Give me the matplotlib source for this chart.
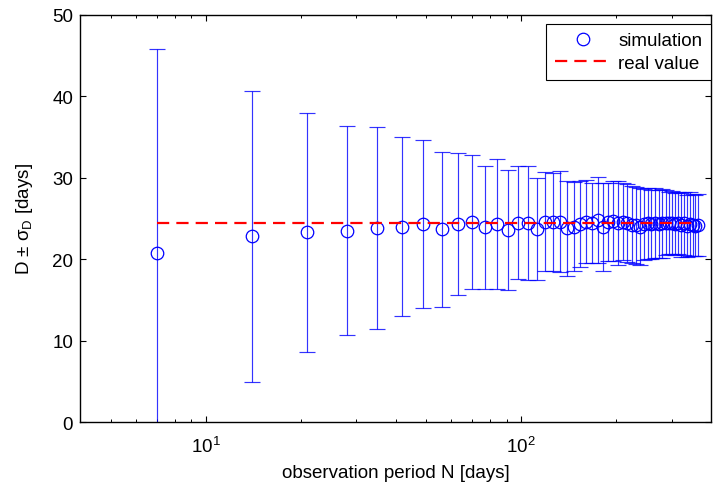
import matplotlib
matplotlib.use("Agg")
import matplotlib.pyplot as plt
from matplotlib.lines import Line2D

plt.rcParams["font.family"] = ["Liberation Sans", "DejaVu Sans"]
plt.rcParams["mathtext.fontset"] = "custom"
plt.rcParams["mathtext.rm"] = "Liberation Sans"
plt.rcParams["mathtext.it"] = "Liberation Sans"
plt.rcParams["mathtext.default"] = "regular"

# observation period N [days] (weekly steps)
period = [7 * k for k in range(1, 53)]

# estimated D [days]
d_mean = [20.8, 22.8, 23.3, 23.5, 23.8, 24.0, 24.3, 23.7, 24.3, 24.6,
          23.9, 24.3, 23.6, 24.5, 24.45, 23.7, 24.6, 24.6, 24.6, 23.8,
          24.0, 24.35, 24.6, 24.45, 24.8, 23.95, 24.6, 24.7, 24.45, 24.6,
          24.45, 24.25, 24.15, 24.0, 24.3, 24.4, 24.3, 24.4, 24.3, 24.4,
          24.5, 24.4, 24.5, 24.3, 24.4, 24.2, 24.4, 24.1, 24.3, 24.2,
          24.1, 24.2]

# sigma_D [days]
d_sigma = [25.0, 17.8, 14.7, 12.8, 12.4, 10.95, 10.3, 9.5, 8.7, 8.2,
           7.6, 8.0, 7.4, 6.95, 7.0, 6.3, 6.05, 6.0, 6.2, 5.8,
           5.5, 5.25, 5.1, 4.95, 5.3, 5.45, 4.8, 4.9, 5.15, 4.75,
           4.75, 4.75, 4.75, 4.7, 4.35, 4.4, 4.25, 4.3, 4.2, 4.2,
           4.0, 3.8, 3.9, 3.8, 3.8, 3.9, 3.9, 3.8, 3.9, 3.8,
           3.75, 3.75]

real_value = 24.45

FS = 13.5

fig = plt.figure(figsize=(7.13, 4.85), dpi=100)
ax = fig.add_axes([0.1122, 0.1272, 0.8850, 0.8404])

ax.errorbar(period, d_mean, yerr=d_sigma, fmt="none", ecolor="#0000ff",
            elinewidth=0.85, capsize=5.5, capthick=0.85, alpha=0.8, zorder=2)
ax.plot(period, d_mean, "o", mfc="none", mec="#0000ff", ms=9, mew=0.9, zorder=3)
ax.plot([period[0], period[-1]], [real_value, real_value], color="#ff0000",
        lw=1.6, ls=(0, (5.5, 3.2)), zorder=4)

ax.set_xscale("log")
ax.set_xlim(4, 400)
ax.set_ylim(0, 50)
ax.set_yticks(range(0, 51, 10))
ax.tick_params(which="both", direction="in", top=True, right=True, labelsize=FS)
ax.tick_params(which="major", length=4.5, width=0.8)
ax.tick_params(which="minor", length=2.3, width=0.7)
ax.tick_params(axis="x", which="both", pad=10)
ax.tick_params(axis="y", which="both", pad=5)
for s in ax.spines.values():
    s.set_linewidth(1.0)

ax.set_xlabel("observation period N [days]", fontsize=FS, labelpad=5.5)
ax.set_ylabel(r"D ± σ$_D$ [days]", fontsize=FS, labelpad=12)

handles = [Line2D([], [], marker="o", ls="none", mfc="none", mec="#0000ff", ms=9, mew=0.9),
           Line2D([], [], color="#ff0000", lw=1.6, ls=(0, (5.5, 3.2)))]
leg = ax.legend(handles, ["simulation", "real value"], loc="upper right",
                bbox_to_anchor=(1.0, 1 - 9 / 407), fontsize=FS, fancybox=False,
                framealpha=1, edgecolor="black", handlelength=3.0,
                borderaxespad=0.0, handletextpad=0.4, borderpad=0.45,
                labelspacing=0.3)
leg.get_frame().set_linewidth(0.8)

fig.savefig("out.png", dpi=100)
